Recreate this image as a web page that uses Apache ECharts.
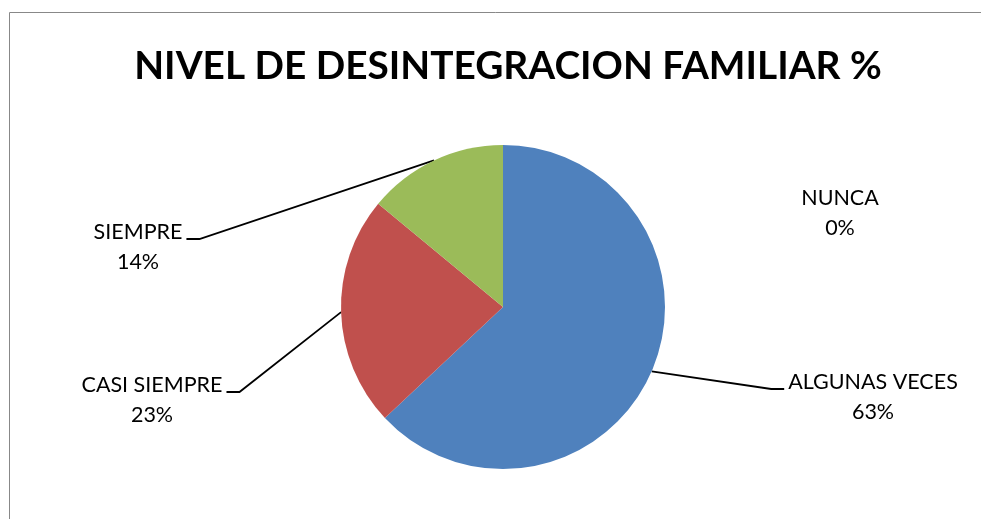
<!DOCTYPE html>
<html lang="es">
<head>
<meta charset="UTF-8">
<title>Nivel de desintegracion familiar</title>
<script src="https://cdn.jsdelivr.net/npm/echarts@6/dist/echarts.min.js"></script>
<style>
    html, body { margin: 0; padding: 0; background: #fff; }
    #main { width: 981px; height: 519px; }
</style>
</head>
<body>
<div id="main"></div>
<script type="text/javascript">
    // datos del grafico
    var categorias = ['ALGUNAS VECES', 'CASI SIEMPRE', 'SIEMPRE', 'NUNCA'];
    var porcentajes = [63, 23, 14, 0];
    var colores = ['#4F81BD', '#C0504D', '#9BBB59', '#8064A2'];

    // centro de cada bloque de etiqueta (colocadas a mano en el original)
    var posEtiquetas = [[873, 397], [152, 400], [138, 247], [840, 213]];

    var datos = categorias.map(function (c, i) {
        return {
            name: c,
            value: porcentajes[i],
            itemStyle: { color: colores[i] },
            labelLine: { show: porcentajes[i] > 0 }
        };
    });

    var option = {
        animation: false,
        title: {
            text: 'NIVEL DE DESINTEGRACION FAMILIAR %',
            left: 503,
            top: 42,
            textAlign: 'center',
            textStyle: { fontFamily: 'Lato', fontWeight: 'bold', fontSize: 38.8, color: '#000' }
        },
        graphic: [{
            type: 'rect',
            silent: true,
            shape: { x: 9.5, y: 12.5, width: 1000, height: 600 },
            style: { fill: 'none', stroke: '#888', lineWidth: 1 }
        }],
        series: [{
            type: 'pie',
            center: [503, 307],
            radius: 162,
            startAngle: 90,
            clockwise: true,
            avoidLabelOverlap: false,
            itemStyle: { borderWidth: 0 },
            label: {
                show: true,
                position: 'outside',
                formatter: '{b}\n{c}%',
                fontFamily: 'Lato',
                fontSize: 21.5,
                lineHeight: 30,
                color: '#000'
            },
            labelLine: { show: true, lineStyle: { color: '#000', width: 1.8 } },
            labelLayout: function (p) {
                var pos = posEtiquetas[p.dataIndex];
                var res = { x: pos[0], y: pos[1], align: 'center', verticalAlign: 'middle' };
                if (p.labelLinePoints) {
                    var inicio = p.labelLinePoints[0];
                    var izq = pos[0] < inicio[0];
                    var w = p.labelRect.width;
                    var borde = izq ? pos[0] + w / 2 : pos[0] - w / 2;
                    var s = izq ? 1 : -1;
                    var yy = pos[1] - 8;
                    res.labelLinePoints = [inicio, [borde + s * 17, yy], [borde + s * 4, yy]];
                }
                return res;
            },
            emphasis: { disabled: true },
            data: datos
        }]
    };

    var myChart = echarts.init(document.getElementById('main'));
    myChart.setOption(option);
</script>
</body>
</html>
